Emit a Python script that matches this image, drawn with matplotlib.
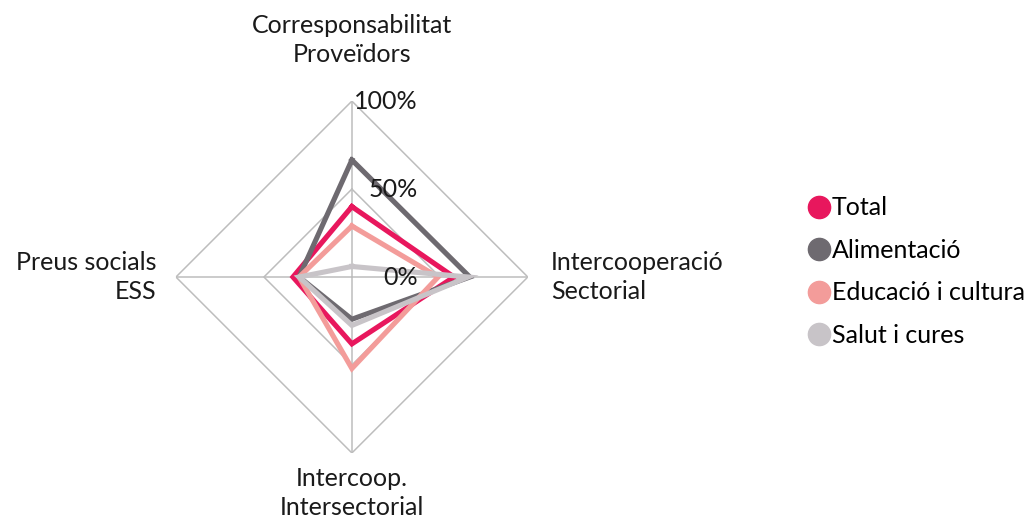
import numpy as np
import matplotlib
matplotlib.use("Agg")
import matplotlib.pyplot as plt
from matplotlib.lines import Line2D

plt.rcParams['font.family'] = ['Lato', 'DejaVu Sans']

# axes, clockwise from the top
categories = ["Corresponsabilitat\nProveïdors", "Intercooperació\nSectorial",
              "Intercoop.\nIntersectorial", "Preus socials\nESS"]
series_names = ["Total", "Alimentació", "Educació i cultura", "Salut i cures"]
total = [0.40, 0.58, 0.38, 0.335]
alimentacio = [0.665, 0.67, 0.24, 0.30]
educacio = [0.29, 0.49, 0.52, 0.30]
salut = [0.06, 0.66, 0.275, 0.30]
series_values = [total, alimentacio, educacio, salut]
colors = ['#E8175D', '#6E6A70', '#F39C9A', '#C8C4C8']
ring_levels = [0.5, 1.0]
ring_labels = ["50%", "100%"]

fig = plt.figure(figsize=(10.35, 5.21), dpi=100)
ax = fig.add_axes([0.170, 0.1305, 0.340, 0.6756], projection='polar')
ax.set_theta_offset(np.pi / 2)
ax.set_theta_direction(-1)
ax.set_ylim(0, 1)
ax.grid(False)
ax.spines['polar'].set_visible(False)
ax.set_xticks([])
ax.set_yticks([])
ax.patch.set_alpha(0)

angles = np.arange(len(categories)) * 2 * np.pi / len(categories)
closed = np.append(angles, angles[0])

grid_col = '#BDBDBD'
for lvl in ring_levels:
    ax.plot(closed, [lvl] * len(closed), color=grid_col, lw=1.1, zorder=1)
for a in angles:
    ax.plot([a, a], [0, 1], color=grid_col, lw=1.1, zorder=1)

for vals, col in zip(series_values, colors):
    ax.plot(closed, list(vals) + [vals[0]], color=col, lw=3.7, zorder=3,
            solid_joinstyle='miter')

fs = 18
txt = '#1a1a1a'

# ring labels, right-aligned next to the top spoke
for lvl, lab in zip([0.0] + ring_levels, ["0%"] + ring_labels):
    ax.annotate(lab, xy=(0, lvl), xytext=(47.5, 0), textcoords='offset points',
                ha='right', va='center', fontsize=fs, color=txt, zorder=4)

ax.text(angles[0], 1.2, categories[0], ha='center', va='bottom', fontsize=fs,
        color=txt, linespacing=1.3)
ax.text(angles[1], 1.13, categories[1], ha='left', va='center', fontsize=fs,
        color=txt, linespacing=1.3)
ax.text(angles[2], 1.08, categories[2], ha='center', va='top', fontsize=fs,
        color=txt, linespacing=1.3)
ax.text(angles[3], 1.11, categories[3], ha='right', va='center', fontsize=fs,
        color=txt, multialignment='right', linespacing=1.3)

handles = [Line2D([], [], marker='o', ls='none', markersize=16, color=c)
           for c in colors]
fig.legend(handles, series_names, loc='upper left',
           bbox_to_anchor=(0.782, 0.623), frameon=False, fontsize=fs,
           handlelength=0.8, handletextpad=0.1, labelspacing=0.78,
           borderaxespad=0, borderpad=0)

fig.savefig('out.png', dpi=100)
